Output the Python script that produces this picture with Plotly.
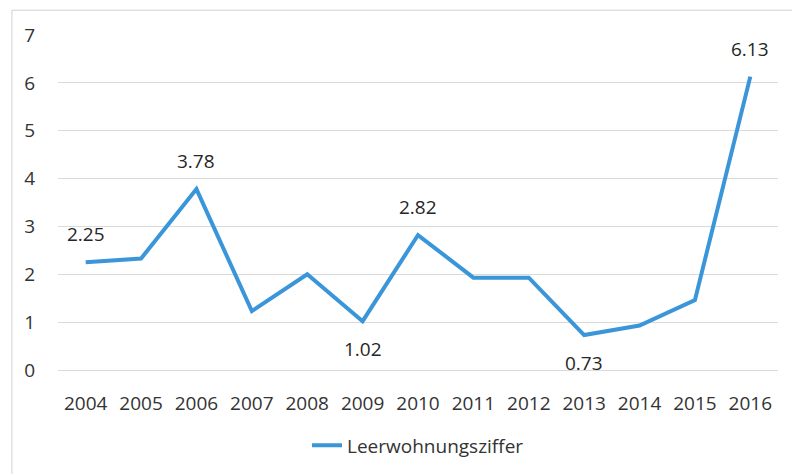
import plotly.graph_objects as go

years = ["2004", "2005", "2006", "2007", "2008", "2009", "2010",
         "2011", "2012", "2013", "2014", "2015", "2016"]
values = [2.25, 2.33, 3.78, 1.23, 2.0, 1.02, 2.82, 1.93, 1.93, 0.73, 0.93, 1.46, 6.13]
labels = ["2.25", "", "3.78", "", "", "1.02", "2.82", "", "", "0.73", "", "", "6.13"]
label_side = [1, 0, 1, 0, 0, -1, 1, 0, 0, -1, 0, 0, 1]
series_name = "Leerwohnungsziffer"
y_ticks = [0, 1, 2, 3, 4, 5, 6, 7]

FONT = "Open Sans"
TXT = "#333333"
fig = go.Figure()
fig.add_trace(go.Scatter(
    x=years, y=values, name=series_name, mode="lines",
    line=dict(color="#3A96D9", width=4),
))

annotations = []
for i, (v, lab, side) in enumerate(zip(values, labels, label_side)):
    if lab:
        annotations.append(dict(x=i, y=v, xref="x", yref="y", text=lab, showarrow=False,
                                yshift=28 * side, yanchor="middle",
                                font=dict(family=FONT, size=19, color="#262626")))

fig.update_layout(
    width=792, height=476,
    margin=dict(l=58, r=14, t=35, b=104),
    paper_bgcolor="white", plot_bgcolor="white",
    font=dict(family=FONT, size=19, color=TXT),
    showlegend=True,
    legend=dict(orientation="h", x=0.5, xanchor="center", y=-0.225, yanchor="middle",
                font=dict(family=FONT, size=19, color=TXT)),
    xaxis=dict(type="category", range=[-0.5, 12.5], showgrid=False, showline=False,
               ticks="", ticklabelstandoff=20, tickfont=dict(size=19)),
    yaxis=dict(range=[0, 7], tickvals=y_ticks, showgrid=True, gridcolor="#dadada",
               gridwidth=1, zeroline=True, zerolinecolor="#dadada", zerolinewidth=1,
               showline=False, ticks="", ticklabelstandoff=22, tickfont=dict(size=19)),
    annotations=annotations,
    shapes=[
        dict(type="line", xref="paper", yref="paper", x0=-0.064, x1=1.03,
             y0=1.074, y1=1.074, line=dict(color="#d0d0d0", width=1)),
        dict(type="line", xref="paper", yref="paper", x0=-0.064, x1=-0.064,
             y0=1.074, y1=-0.31, line=dict(color="#d0d0d0", width=1)),
    ],
)

fig.write_html("out.html")
